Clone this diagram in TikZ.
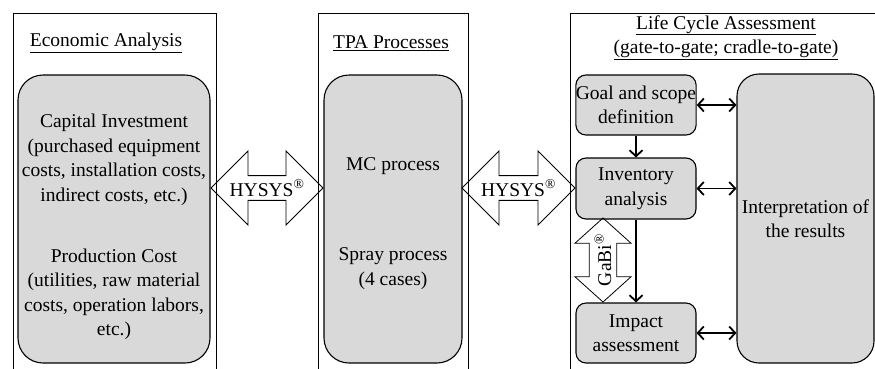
\documentclass[tikz,border=0pt]{standalone}
\usepackage{fontspec}
\setmainfont{Liberation Serif}
\usetikzlibrary{shapes.arrows,arrows.meta}
\definecolor{boxgray}{RGB}{217,217,217}
\newcommand\diagfont{\fontsize{19.5}{24.5}\selectfont}
\tikzset{
  panel/.style={draw, line width=1pt, inner sep=0pt},
  graybox/.style={draw, fill=boxgray, line width=1.1pt, inner sep=0pt, align=center},
  txt/.style={align=center, inner sep=0pt},
  hysys/.style={double arrow, draw, line width=0.8pt, inner sep=0pt,
    double arrow tip angle=90, double arrow head extend=17.5pt,
    minimum width=74pt},
  link/.style={line width=1.8pt},
  >={Straight Barb[length=6pt,width=13pt]}
}
\begin{document}
\begin{tikzpicture}[x=1pt, y=-1pt, font=\diagfont]
  \useasboundingbox (0,0) rectangle (875,368);
  \clip (0,0) rectangle (875,368);

  % outer panels (open at the bottom)
  \node[panel, minimum width=203pt, minimum height=367pt] (econpanel) at (114.5,196.5) {};
  \node[panel, minimum width=150pt, minimum height=367pt] (tpapanel) at (393,196.5) {};
  \node[panel, minimum width=320pt, minimum height=367pt] (lcapanel) at (730,196.5) {};

  % titles
  \node[txt] (econtitle) at (106,43) {\underline{Economic Analysis}};
  \node[txt] (tpatitle) at (391,43) {\underline{TPA Processes}};
  \node[txt] (lcatitle) at (726,37.5) {\underline{Life Cycle Assessment}\\\underline{(gate-to-gate; cradle-to-gate)}};

  % economic analysis
  \node[graybox, rounded corners=25pt, minimum width=192pt, minimum height=288pt] (econbox) at (114,219) {};
  \node[txt] (capinv) at (114,160) {Capital Investment\\(purchased equipment\\costs, installation costs,\\indirect costs, etc.)};
  \node[txt] (prodcost) at (114,294.5) {Production Cost\\(utilities, raw material\\costs, operation labors,\\etc.)};

  % TPA processes
  \node[graybox, rounded corners=25pt, minimum width=138pt, minimum height=288pt] (tpabox) at (393,219) {};
  \node[txt] (mc) at (393,166) {MC process};
  \node[txt] (spray) at (393,268.5) {Spray process\\(4 cases)};

  % LCA steps
  \node[graybox, rounded corners=10pt, minimum width=120pt, minimum height=60pt] (goal) at (636,105) {Goal and scope\\definition};
  \node[graybox, rounded corners=10pt, minimum width=120pt, minimum height=61pt] (inventory) at (636,188.5) {Inventory\\analysis};
  \node[graybox, rounded corners=10pt, minimum width=120pt, minimum height=60pt] (impact) at (636,333) {Impact\\assessment};
  \node[graybox, rounded corners=22pt, minimum width=137pt, minimum height=289pt] (interp) at (805.5,218.5) {Interpretation of\\the results};

  % software links
  \node[hysys, minimum height=112pt] (hysysa) at (267,188) {HYSYS\textsuperscript{®}};
  \node[hysys, minimum height=113pt] (hysysb) at (518.5,188) {HYSYS\textsuperscript{®}};
  \node[double arrow, draw, line width=0.8pt, inner sep=0pt, rotate=90,
    double arrow tip angle=96, double arrow head extend=9pt,
    minimum width=56pt, minimum height=84pt] (gabi) at (603,260) {GaBi\textsuperscript{®}};

  % connectors
  \draw[link, ->] (goal) -- (inventory);
  \draw[link, ->] (inventory.south) -- (impact.north);
  \foreach \step in {goal,inventory,impact}{
    \draw[link, <->] (\step.east) -- (\step.east -| interp.west);
  }
\end{tikzpicture}
\end{document}
